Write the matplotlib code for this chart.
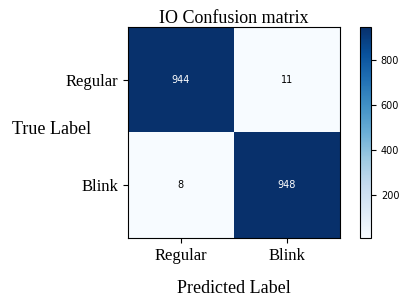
import numpy as np
from matplotlib import pyplot as plt

classes = ["Regular", "Blink"]
cm = np.array([[944, 11],
               [8, 948]])

fig = plt.figure(figsize=(4.1, 3.08), dpi=100)
ax = fig.add_axes([0.312, 0.227, 0.517, 0.685])
cax = fig.add_axes([0.878, 0.227, 0.027, 0.685])

im = ax.imshow(cm, interpolation="nearest", cmap=plt.cm.Blues, aspect="auto")
cb = fig.colorbar(im, cax=cax)
cb.set_ticks([200, 400, 600, 800])
cb.ax.tick_params(labelsize=7)

serif = "Liberation Serif"
ax.set_title("IO Confusion matrix", fontsize=13, family=serif, pad=3)
ax.set_xticks(np.arange(len(classes)))
ax.set_xticklabels(classes, fontsize=12, family=serif)
ax.set_yticks(np.arange(len(classes)))
ax.set_yticklabels(classes, fontsize=12, family=serif)
ax.set_xlabel("Predicted Label", fontsize=13, family=serif, labelpad=12)
ax.set_ylabel("True Label", fontsize=13, family=serif, rotation=0,
              va="center", ha="center")
ax.yaxis.set_label_coords(-0.36, 0.516)

thresh = cm.max() / 2.0
for i in range(cm.shape[0]):
    for j in range(cm.shape[1]):
        ax.text(j, i, format(cm[i, j], "d"), ha="center", va="center",
                fontsize=7, color="white" if cm[i, j] > thresh else "black")

fig.savefig("out.png", dpi=100)
